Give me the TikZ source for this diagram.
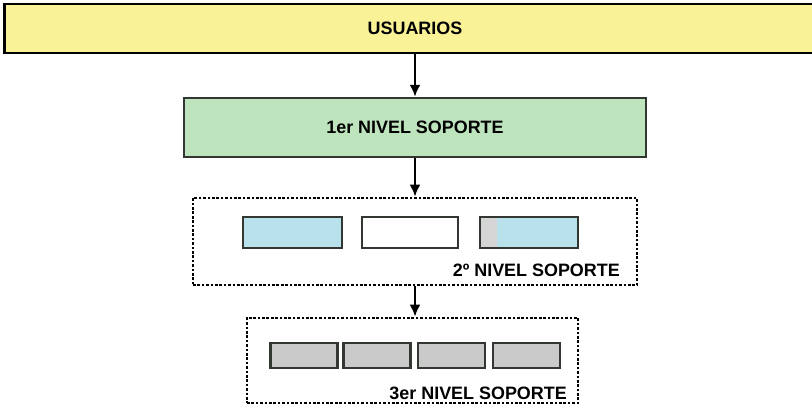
\documentclass[tikz,border=0pt]{standalone}
\usepackage{fontspec}
\setmainfont{Liberation Sans}
\usepackage{tikz}
\usetikzlibrary{arrows.meta}

\definecolor{usuyellow}{RGB}{250,242,150}
\definecolor{nivgreen}{RGB}{190,228,190}
\definecolor{nivblue}{RGB}{185,225,235}
\definecolor{nivgray}{RGB}{202,202,202}
\definecolor{bordegris}{RGB}{50,55,50}

\tikzset{
  etiqueta/.style={font=\fontsize{10.2}{12}\selectfont\bfseries},
  caja/.style={draw=bordegris, line width=1.4pt, inner sep=0pt},
  grupo/.style={draw, densely dotted, line width=1.5pt, inner sep=0pt},
  flecha/.style={-{Latex[length=2.4mm,width=2.2mm]}, line width=1.7pt}
}

\begin{document}
\begin{tikzpicture}[x=0.2mm,y=-0.2mm]

% Fix the margins of the picture
\useasboundingbox (0,0) rectangle (812,406);

% Top bar
\node[caja, draw=black, line width=1.7pt, fill=usuyellow, etiqueta,
  minimum width=16.4cm, minimum height=0.98cm] (usuarios) at (415,28.5) {USUARIOS};

% First level
\node[caja, fill=nivgreen, etiqueta,
  minimum width=9.24cm, minimum height=1.18cm] (nivel1) at (415,127.5) {1er NIVEL SOPORTE};

% Second level group
\node[grupo, minimum width=8.88cm, minimum height=1.74cm] (nivel2) at (415,241.5) {};
\node[caja, fill=nivblue, minimum width=1.98cm, minimum height=0.62cm] (n2a) at (292.5,232.5) {};
\node[caja, fill=white, minimum width=1.92cm, minimum height=0.62cm] (n2b) at (410,232.5) {};
\node[caja, fill=nivblue, minimum width=1.96cm, minimum height=0.62cm,
  path picture={\fill[nivgray!80] (path picture bounding box.south west)
    rectangle ([xshift=0.34cm]path picture bounding box.north west);}] (n2c) at (529,232.5) {};
\node[etiqueta, anchor=east] (lab2) at (626,270) {2º NIVEL SOPORTE};

% Third level group
\node[grupo, minimum width=6.62cm, minimum height=1.7cm] (nivel3) at (412.5,360.5) {};
\node[caja, fill=nivgray, minimum width=1.34cm, minimum height=0.5cm] (n3a) at (304,355.5) {};
\node[caja, fill=nivgray, minimum width=1.34cm, minimum height=0.5cm] (n3b) at (377,355.5) {};
\node[caja, fill=nivgray, minimum width=1.34cm, minimum height=0.5cm] (n3c) at (451.5,355.5) {};
\node[caja, fill=nivgray, minimum width=1.34cm, minimum height=0.5cm] (n3d) at (526.5,355.5) {};
\node[etiqueta, anchor=east] (lab3) at (573,393) {3er NIVEL SOPORTE};

% Arrows between levels
\draw[flecha] (usuarios.south -| nivel1.north) -- (nivel1.north);
\draw[flecha] (nivel1.south) -- (nivel2.north);
\draw[flecha] (nivel2.south) -- (nivel2.south |- nivel3.north);

\end{tikzpicture}
\end{document}
